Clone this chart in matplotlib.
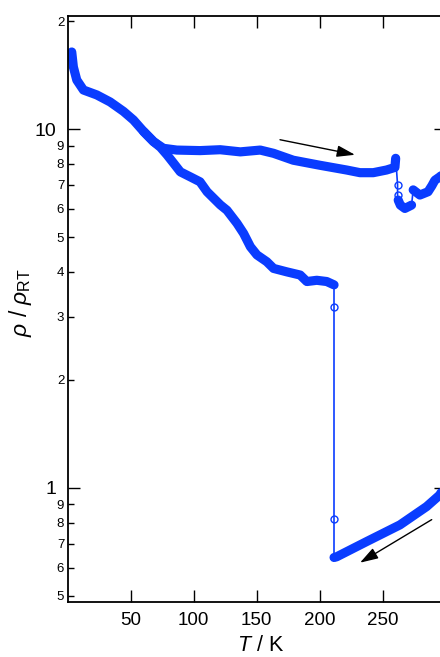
import matplotlib
matplotlib.use("Agg")
import matplotlib.pyplot as plt
from matplotlib.ticker import LogLocator, FuncFormatter
import numpy as np

plt.rcParams['font.family'] = ['Liberation Sans', 'DejaVu Sans']
plt.rcParams['mathtext.fontset'] = 'custom'
plt.rcParams['mathtext.rm'] = 'Liberation Sans'
plt.rcParams['mathtext.it'] = 'Liberation Sans:italic'

BLUE = "#0a3cff"

# warming run (dense parts)
warm_T_a = [3.2, 4.5, 7.2, 12.5, 23.1, 33.7, 44.3, 52.2, 60.2, 68.1, 76.0, 86.6, 105.0, 121.0,
            137.0, 152.8, 163.4, 179.0, 200.0, 221.4, 232.0, 242.5, 253.0, 259.7, 260.3]
warm_rho_a = [16.4, 14.9, 13.7, 12.85, 12.45, 11.9, 11.2, 10.6, 9.85, 9.23, 8.84, 8.74, 8.71, 8.76,
              8.64, 8.74, 8.56, 8.19, 7.93, 7.69, 7.56, 7.56, 7.69, 7.82, 8.29]
warm_T_b = [262.3, 264.0, 267.6, 272.9]
warm_rho_b = [6.34, 6.14, 6.01, 6.14]
warm_T_c = [274.2, 279.5, 286.0, 289.0, 291.4, 295.3, 298.0]
warm_rho_c = [6.77, 6.55, 6.69, 6.95, 7.2, 7.36, 7.5]
# sparse points of the warming jump
warm_jump_T = [260.3, 261.8, 261.8, 262.3]
warm_jump_rho = [8.29, 7.0, 6.55, 6.34]
warm_gap_T = [272.9, 274.2]
warm_gap_rho = [6.14, 6.77]

# cooling run (dense parts)
cool_T_a = [299.0, 295.3, 284.8, 263.7, 237.3, 213.5, 211.4]
cool_rho_a = [1.01, 0.956, 0.887, 0.789, 0.709, 0.643, 0.64]
cool_T_b = [211.4, 205.6, 197.7, 189.8, 184.5, 174.0, 163.4, 158.0, 150.2, 145.0, 139.6, 134.4,
            126.4, 121.1, 110.6, 105.0, 97.3, 89.4, 84.1, 78.9, 73.6, 68.1, 60.2]
cool_rho_b = [3.68, 3.76, 3.79, 3.76, 3.92, 4.00, 4.09, 4.27, 4.46, 4.70, 5.12, 5.46,
              5.94, 6.15, 6.69, 7.13, 7.36, 7.6, 8.03, 8.47, 8.9, 9.23, 9.85]
# sparse points of the cooling jump
cool_jump_T = [211.4, 211.4, 211.4, 211.4]
cool_jump_rho = [0.64, 0.82, 3.2, 3.68]

xticks = [50, 100, 150, 200, 250]

fig = plt.figure(figsize=(4.40, 6.57), dpi=100)
ax = fig.add_axes([67.7 / 440, 55 / 657, 378 / 440, 586.3 / 657])

thick = dict(color=BLUE, lw=6.6, solid_capstyle='round', solid_joinstyle='round')
for T, r in [(warm_T_a, warm_rho_a), (warm_T_b, warm_rho_b), (warm_T_c, warm_rho_c),
             (cool_T_a, cool_rho_a), (cool_T_b, cool_rho_b)]:
    ax.plot(T, r, **thick)

for T, r in [(warm_jump_T, warm_jump_rho), (cool_jump_T, cool_jump_rho), (warm_gap_T, warm_gap_rho)]:
    ax.plot(T, r, color=BLUE, lw=1.2)
ax.plot(warm_jump_T[1:3], warm_jump_rho[1:3], 'o', color=BLUE, mfc='none', ms=5, mew=1.0)
ax.plot(cool_jump_T[1:3], cool_jump_rho[1:3], 'o', color=BLUE, mfc='none', ms=5, mew=1.0)

arrow = dict(arrowstyle='-|>,head_length=1.1,head_width=0.35', color='black', lw=1.0,
             mutation_scale=10, shrinkA=0, shrinkB=0)
ax.annotate('', xy=(228, 8.48), xytext=(168.5, 9.34), arrowprops=arrow)
ax.annotate('', xy=(232, 0.619), xytext=(288.9, 0.816), arrowprops=arrow)

ax.set_yscale('log')
ax.set_xlim(0, 300)
ax.set_ylim(0.481, 20.7)

ax.set_xticks(xticks)
ax.yaxis.set_major_locator(LogLocator(base=10, numticks=10))
ax.yaxis.set_minor_locator(LogLocator(base=10, subs=np.arange(2, 10), numticks=20))


def major_fmt(v, pos):
    return f"{v:g}"


def minor_fmt(v, pos):
    d = int(round(v / 10 ** np.floor(np.log10(v) + 1e-9)))
    return str(d)


ax.yaxis.set_major_formatter(FuncFormatter(major_fmt))
ax.yaxis.set_minor_formatter(FuncFormatter(minor_fmt))

ax.tick_params(which='both', direction='in', top=True, right=True, width=1.0, color='black')
ax.tick_params(which='major', length=8.6)
ax.tick_params(axis='x', which='major', pad=7, labelsize=13.5)
ax.tick_params(axis='y', which='major', pad=8, labelsize=14)
ax.tick_params(axis='y', which='minor', length=4.3, labelsize=9.5, pad=2.5)
for s in ax.spines.values():
    s.set_linewidth(1.3)

ax.set_xlabel(r'$T$ / K', fontsize=15.5)
ax.set_ylabel(r'$\rho$ / $\rho_{\mathrm{RT}}$', fontsize=16.5)
ax.xaxis.set_label_coords(0.51, -0.057)
ax.yaxis.set_label_coords(-0.089, 0.51)

fig.savefig("out.png", dpi=100)
